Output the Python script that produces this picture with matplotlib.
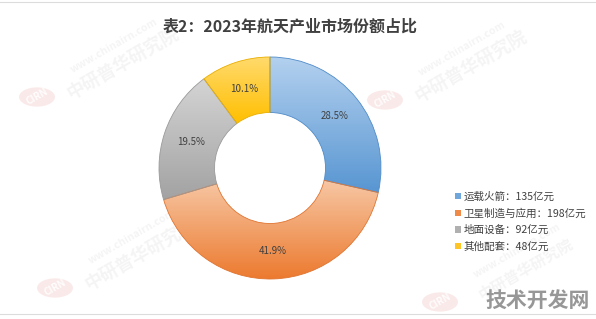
import numpy as np
import matplotlib
matplotlib.use('Agg')
import matplotlib.pyplot as plt
from matplotlib.colors import LinearSegmentedColormap
from matplotlib.patches import Circle, Rectangle
from matplotlib.lines import Line2D

plt.rcParams['font.family'] = ['Noto Sans CJK SC', 'DejaVu Sans']

# Market size by segment, 2023 (unit: 亿元)
categories = ['运载火箭', '卫星制造与应用', '地面设备', '其他配套']
values = [135, 198, 92, 48]
unit = '亿元'
title = '表2：2023年航天产业市场份额占比'

# Vertical gradient (top -> bottom) for each slice
top_colors = ['#b4d1ef', '#f7c7a4', '#d4d4d4', '#ffda6e']
bottom_colors = ['#5896d2', '#ec7a2f', '#a2a2a2', '#ffbf00']
edge_colors = ['#4f8bc8', '#e07430', '#9a9a9a', '#e8ae00']
legend_colors = ['#6fa6dc', '#ef8a48', '#b0b0b0', '#ffc526']

W, H = 596, 319
fig = plt.figure(figsize=(W / 100, H / 100), dpi=100)
fig.patch.set_facecolor('white')


def px(x, y):
    return x / W, 1 - y / H


# thin frame lines at top and bottom
for yy in (2, 314):
    fig.add_artist(Line2D([0, 1], [px(0, yy)[1]] * 2, color='#dcdcdc', lw=0.8,
                          transform=fig.transFigure))


# faint site watermarks
def watermark(cx, cy, size=13):
    ang = 30
    rad = np.deg2rad(ang)
    ux, uy = np.cos(rad), np.sin(rad)
    fig.add_artist(Circle(px(cx, cy), 18 / W, transform=fig.transFigure,
                          facecolor='#f3c2c2', edgecolor='none', alpha=0.35,
                          zorder=0))
    fig.text(*px(cx, cy), 'CIRN', rotation=ang, ha='center', va='center',
             fontsize=7, fontweight='bold', color='white', alpha=0.9, zorder=0.5)
    sx, sy = cx + 22, cy - 2
    mx, my = sx + 70 * ux, sy - 70 * uy
    fig.text(*px(mx + 3, my + 4), '中研普华研究院', rotation=ang, ha='center',
             va='center', fontsize=size, fontweight='bold', color='#d0d0d0',
             alpha=0.22, zorder=0.5)
    fig.text(*px(mx - 6, my - 14), 'www.chinairn.com', rotation=ang,
             ha='center', va='center', fontsize=7.5, fontweight='bold',
             color='#d0d0d0', alpha=0.22, zorder=0.5)


for cx, cy, s in [(37, 97, 13), (55, 288, 13), (385, 100, 13), (440, 302, 11)]:
    watermark(cx, cy, s)

# donut chart
R = 111
cxp, cyp = 270, 168
ax = fig.add_axes([(cxp - R) / W, (H - cyp - R) / H, 2 * R / W, 2 * R / H])
ax.set_zorder(2)
wedges, _, autotexts = ax.pie(
    values, startangle=90, counterclock=False, radius=1,
    colors=legend_colors,
    wedgeprops=dict(width=0.5, linewidth=0),
    autopct='%.1f%%', pctdistance=0.75,
    textprops=dict(fontsize=7, color='#404040'))

grad = np.linspace(0, 1, 256).reshape(-1, 1)
for w, top, bot, ec in zip(wedges, top_colors, bottom_colors, edge_colors):
    ext = w.get_path().get_extents()
    cmap = LinearSegmentedColormap.from_list('g', [bot, top])
    im = ax.imshow(grad, cmap=cmap, origin='lower', aspect='auto',
                   extent=(ext.x0, ext.x1, ext.y0, ext.y1), zorder=1.5,
                   interpolation='bilinear')
    im.set_clip_path(w)
    w.set_facecolor('none')
    w.set_edgecolor(ec)
    w.set_linewidth(0.6)
    w.set_zorder(2)

for t in autotexts:
    t.set_zorder(5)

ax.set_aspect('equal')
ax.set_xlim(-1, 1)
ax.set_ylim(-1, 1)
ax.axis('off')

# title
fig.text(*px(290, 27), title, ha='center', va='center', fontsize=11.5,
         fontweight='bold', color='#404040')

# legend
handles = [Rectangle((0, 0), 1, 1, facecolor=c, edgecolor='none')
           for c in legend_colors]
labels = [f'{c}：{v}{unit}' for c, v in zip(categories, values)]
fig.legend(handles, labels, loc='upper left',
           bbox_to_anchor=px(455, 191.5), frameon=False, fontsize=7.6,
           handlelength=0.55, handleheight=0.55, handletextpad=0.3,
           labelspacing=0.62, borderaxespad=0, borderpad=0,
           labelcolor='#404040')

# site mark
fig.text(*px(538, 300), '技术开发网', ha='center', va='center', fontsize=15,
         fontweight='bold', color='#8c8c8c', alpha=0.9)

fig.savefig('out.png', dpi=100, facecolor='white')
